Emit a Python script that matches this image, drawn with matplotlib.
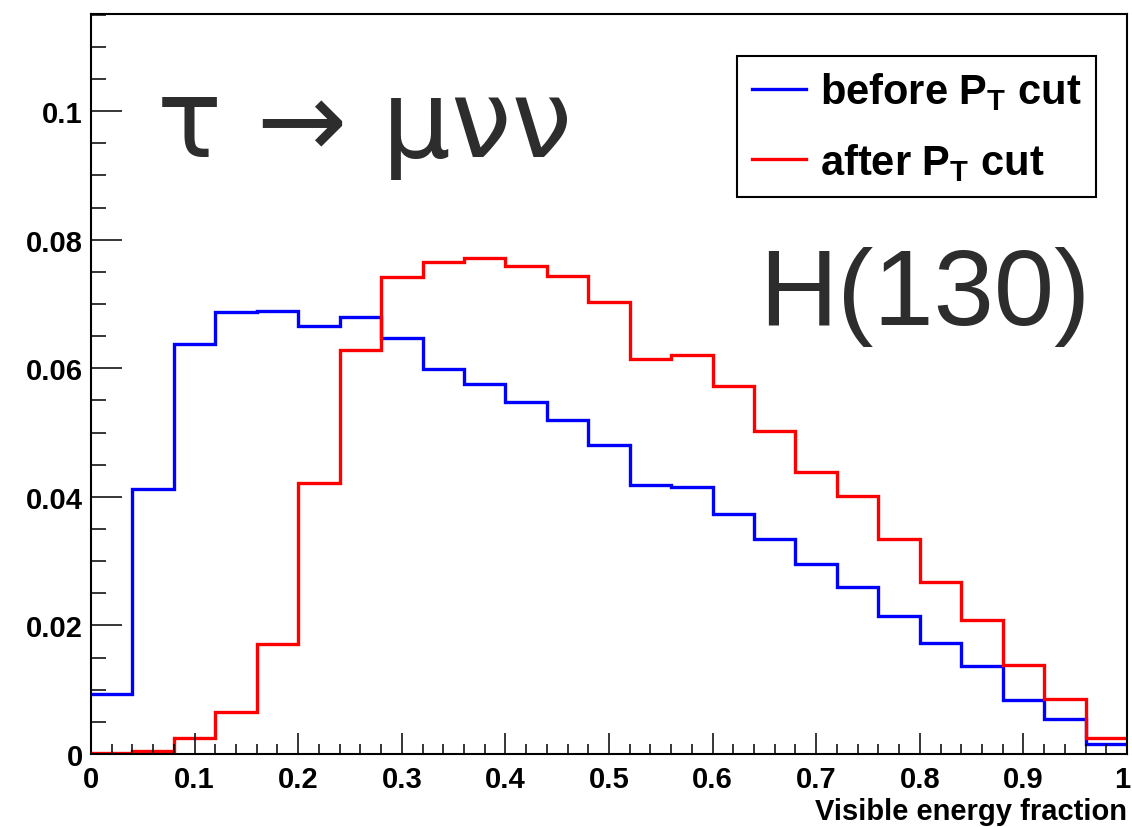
import numpy as np
import matplotlib
matplotlib.use("Agg")
import matplotlib.pyplot as plt
from matplotlib.transforms import ScaledTranslation

# visible energy fraction, 25 bins on [0, 1]
edges = np.linspace(0, 1, 26)

before_cut = [0.0093, 0.0412, 0.0637, 0.0687, 0.0689, 0.0665, 0.0680, 0.0647,
              0.0599, 0.0575, 0.0547, 0.0520, 0.0481, 0.0419, 0.0416, 0.0373,
              0.0335, 0.0295, 0.0260, 0.0215, 0.0173, 0.0137, 0.0084, 0.0054,
              0.0016]
after_cut = [0.0002, 0.0005, 0.0025, 0.0066, 0.0171, 0.0421, 0.0629, 0.0742,
             0.0765, 0.0771, 0.0759, 0.0743, 0.0703, 0.0614, 0.0621, 0.0572,
             0.0503, 0.0438, 0.0402, 0.0335, 0.0268, 0.0209, 0.0138, 0.0086,
             0.0025]

labels = [r"before P$_\mathbf{T}$ cut", r"after P$_\mathbf{T}$ cut"]
xticks = [0, 0.1, 0.2, 0.3, 0.4, 0.5, 0.6, 0.7, 0.8, 0.9, 1]
xticklabels = ["0", "0.1", "0.2", "0.3", "0.4", "0.5", "0.6", "0.7", "0.8", "0.9", "1"]
yticks = [0, 0.02, 0.04, 0.06, 0.08, 0.1]
yticklabels = ["0", "0.02", "0.04", "0.06", "0.08", "0.1"]

plt.rcParams['font.family'] = ['Liberation Sans', 'DejaVu Sans']
plt.rcParams['mathtext.fontset'] = 'custom'
plt.rcParams['mathtext.rm'] = 'Liberation Sans:bold'
plt.rcParams['mathtext.bf'] = 'Liberation Sans:bold'

fig = plt.figure(figsize=(11.32, 8.28), dpi=100)
ax = fig.add_axes([91/1132, 73/828, 1036/1132, 740/828])

ax.stairs(before_cut, edges, color='#0000ff', linewidth=2.4, label=labels[0], baseline=None)
ax.stairs(after_cut, edges, color='#ff0000', linewidth=2.4, label=labels[1], baseline=None)

ax.set_xlim(0, 1)
ax.set_ylim(0, 0.1151)

ax.set_xticks(xticks)
ax.set_xticklabels(xticklabels, fontsize=21, fontweight='bold')
ax.set_xticks(np.arange(0, 1.0001, 0.02), minor=True)
ax.set_yticks(yticks)
ax.set_yticklabels(yticklabels, fontsize=21, fontweight='bold')
ax.set_yticks(np.arange(0, 0.1151, 0.005), minor=True)

ax.tick_params(axis='x', which='major', direction='in', length=15, width=1.1, pad=8)
ax.tick_params(axis='x', which='minor', direction='in', length=7, width=1.1)
ax.tick_params(axis='y', which='major', direction='in', length=22, width=1.1, pad=6)
ax.tick_params(axis='y', which='minor', direction='in', length=11, width=1.1)
for sp in ax.spines.values():
    sp.set_linewidth(1.5)

# keep the last x label inside the canvas
last = ax.get_xticklabels()[-1]
last.set_transform(last.get_transform() + ScaledTranslation(-5/100, 0, fig.dpi_scale_trans))

ax.set_xlabel("Visible energy fraction", fontsize=21, fontweight='bold', loc='right', labelpad=3)

leg = ax.legend(loc='upper left', bbox_to_anchor=(737/1132, 1 - 57/828),
                bbox_transform=fig.transFigure, borderaxespad=0, fancybox=False,
                edgecolor='black', framealpha=1, handlelength=1.3,
                handletextpad=0.35, labelspacing=0.68, borderpad=0.35,
                prop={'weight': 'bold', 'size': 30})
leg.get_frame().set_linewidth(1.5)

ax.text((157 - 91)/1036, (755 - 157)/740, "τ → μνν", transform=ax.transAxes,
        fontsize=78, color='#2d2d2d', ha='left', va='baseline', family='DejaVu Sans')
ax.text((1090 - 91)/1036, (755 - 325)/740, "H(130)", transform=ax.transAxes,
        fontsize=78, color='#2d2d2d', ha='right', va='baseline')

fig.savefig("out.png", dpi=100)
